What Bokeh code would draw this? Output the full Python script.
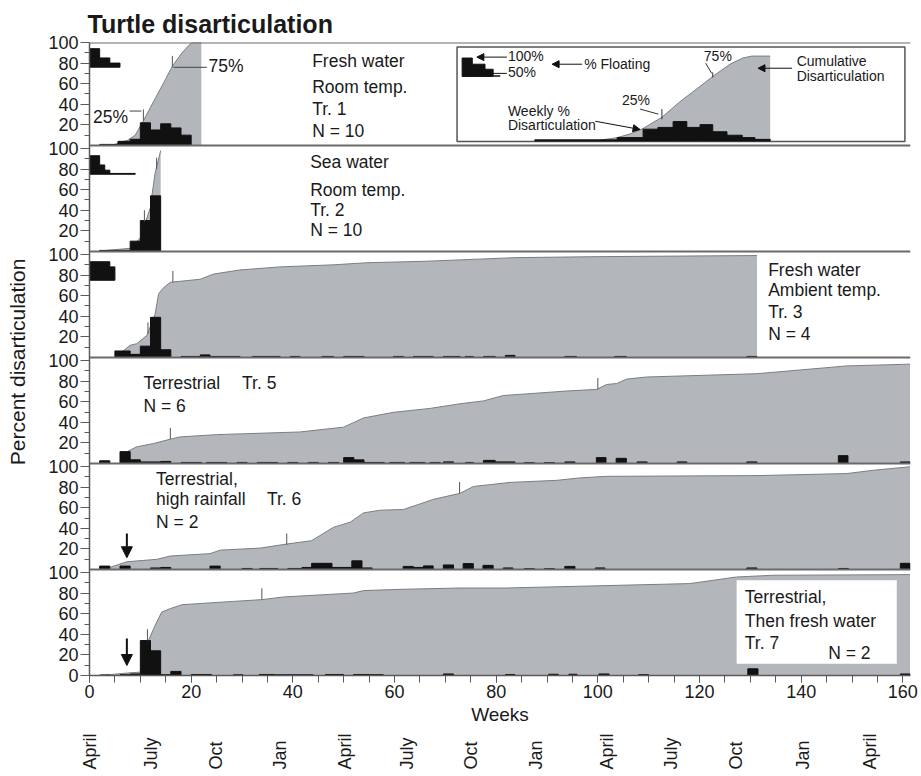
from bokeh.plotting import figure
from bokeh.layouts import column
from bokeh.models import Range1d, FixedTicker, Span, Arrow, NormalHead
from bokeh.embed import file_html
from bokeh.resources import INLINE
from bokeh.core.properties import value

# ---------------- axis data ----------------
week_ticks = [0, 20, 40, 60, 80, 100, 120, 140, 160]
week_minor = list(range(0, 161, 5))
month_names = ["April", "July", "Oct", "Jan", "April", "July", "Oct", "Jan",
               "April", "July", "Oct", "Jan", "April"]
month_weeks = [0, 12.1, 24.8, 37.5, 50.2, 62.4, 75.1, 87.8, 101.7, 114.4, 127.1, 140.3, 153.6]

# ---------------- Tr. 1 : fresh water, room temp ----------------
tr1_float_left = [0, 2, 4]
tr1_float_right = [2, 4, 6]
tr1_float_top = [94, 85, 80]
tr1_float_bottom = 76
tr1_bar_left = [2, 5.6, 8, 10, 12, 14, 16, 18]
tr1_bar_right = [5.6, 8, 10, 12, 14, 16, 18, 20]
tr1_bar_pct = [1, 4, 6, 22, 15, 21, 17, 10]
tr1_cum_week = [2, 5, 7.5, 9, 10.6, 12, 13.3, 14.5, 16.3, 18.2, 19.5, 20.2, 22]
tr1_cum_pct = [0, 1, 5, 10, 24, 37, 49, 60, 77, 90, 97, 100, 100]
tr1_q_week = [10.6, 16.3]
tr1_q_pct = [24, 76]

# ---------------- Tr. 2 : sea water, room temp ----------------
tr2_float_left = [0, 2, 3, 4]
tr2_float_right = [2, 3, 4, 9]
tr2_float_top = [93, 84, 79, 75.8]
tr2_float_bottom = 75
tr2_bar_left = [2, 8, 10, 12]
tr2_bar_right = [8, 10, 12, 14]
tr2_bar_pct = [1, 10, 30, 54]
tr2_cum_week = [2, 8, 10, 11, 12, 12.3, 12.9, 13.5, 14]
tr2_cum_pct = [0.5, 3, 13, 28, 43, 55, 76, 88, 98]
tr2_q_week = [10.8, 13.2]
tr2_q_pct = [29, 80]

# ---------------- Tr. 3 : fresh water, ambient temp ----------------
tr3_float_left = [0, 2, 4]
tr3_float_right = [2, 4, 5]
tr3_float_top = [93, 93, 88]
tr3_float_bottom = 75
tr3_bar_left = [5, 8, 10, 12, 14, 18, 21.8, 23.7, 32, 39.5, 45.7, 50, 59.8, 63.7, 69.6,
                73.9, 77.5, 81.8, 93.5, 103.3, 129.3]
tr3_bar_right = [8, 10, 12, 14, 16, 21.8, 23.7, 29.6, 37.5, 41.4, 48, 54, 61.8, 67.6, 72.9,
                 75.5, 79.8, 83.7, 95.8, 105.6, 131.3]
tr3_bar_pct = [6.3, 3, 11, 39, 7.5, 1, 2.5, 1, 1, 1, 1, 1, 1, 1, 1,
               1, 1, 2, 1, 1, 1]
tr3_cum_week = [5, 8, 9.3, 11.3, 12.9, 13.6, 14.6, 15.9, 21.8, 24.4, 29.6, 37.5, 48, 54.5,
                66.3, 84, 101.7, 131.3]
tr3_cum_pct = [0, 11.8, 13.4, 21.5, 42, 62, 68, 73, 76, 81, 85, 88, 90, 92,
               93.5, 97, 98, 99]
tr3_q_week = [11.5, 16.4]
tr3_q_pct = [23, 73]

# ---------------- Tr. 5 : terrestrial ----------------
tr5_bar_left = [2, 6, 8, 10, 14, 18, 23, 29, 33, 39, 43, 47, 50, 52, 54, 59, 63, 67, 69.6,
                74, 77.5, 79.8, 85.5, 89.5, 93.5, 99.7, 103.6, 107.7, 115.6, 129.3, 147.3, 159.5]
tr5_bar_right = [4, 8, 10, 14, 16, 22, 27, 31, 37, 41, 45, 49, 52, 54, 58, 62, 66, 69, 71.6,
                 75.5, 79.8, 83.7, 87.5, 91.5, 95.5, 101.6, 105.6, 109.7, 117.5, 131.3, 149.2, 161.4]
tr5_bar_pct = [2.6, 11.5, 3.5, 1.5, 2, 1, 1, 1, 1, 1, 1, 1, 5.7, 3.5, 1, 1, 1, 1, 1.5,
               1, 3, 1.5, 0.8, 0.8, 1.5, 5.7, 5, 1.5, 1.5, 1.5, 7.6, 1.5]
tr5_cum_week = [6, 7.4, 9.3, 12.6, 15.9, 17.8, 25, 41.4, 50, 53.9, 59.8, 67, 72.9, 77.5,
                81.4, 93.9, 99.8, 101.7, 103.7, 105.7, 109.6, 131.3, 149, 161.4]
tr5_cum_pct = [2.5, 11.5, 16.2, 19.4, 23.6, 25.8, 28, 30.6, 35.3, 44.2, 49.7, 53.5, 58, 60.8,
               66, 70.4, 72, 76.7, 77.7, 82, 84, 87.2, 94.8, 96.5]
tr5_q_week = [15.9, 100]
tr5_q_pct = [23.6, 72]

# ---------------- Tr. 6 : terrestrial, high rainfall ----------------
tr6_bar_left = [2, 6, 12, 14, 23.7, 30, 33.5, 39, 41.8, 43.7, 47.7, 51.6, 53.6, 61.7, 63.7,
                65.7, 69.6, 73.5, 77.4, 81.4, 85.5, 89.5, 93.5, 99.5, 129.3, 147.3, 159.5]
tr6_bar_right = [4, 8, 14, 16, 25.7, 32, 37, 41.8, 43.7, 47.7, 51.6, 53.6, 55.6, 63.7, 65.7,
                 67.6, 71.6, 75.5, 79.4, 83.3, 87.5, 91.5, 95.5, 101.4, 131.3, 149.3, 161.4]
tr6_bar_pct = [3.3, 3.3, 1.5, 2, 3.3, 1, 1, 1, 2, 6, 2, 8.4, 1.5, 3, 2,
               3.5, 4.4, 5.7, 4, 1.5, 0.8, 0.8, 3, 1.5, 1.5, 1, 6]
tr6_cum_week = [4, 7.35, 13.3, 15.9, 23.7, 25.7, 33.6, 38.8, 43.7, 48, 51.3, 53.9, 57.2, 61.8,
                67.7, 72.9, 75.5, 82.7, 91.9, 96.5, 101.7, 131.3, 149, 154.2, 161.4]
tr6_cum_pct = [2, 7.5, 9.9, 13.1, 15.4, 18.8, 20.8, 24.7, 28, 41, 46, 55, 57.6, 58.3,
               68.2, 74, 80.6, 84.6, 86.6, 89, 90.5, 91.2, 93.2, 96.4, 99.8]
tr6_q_week = [38.8, 72.8]
tr6_q_pct = [24, 74]

# ---------------- Tr. 7 : terrestrial, then fresh water ----------------
tr7_bar_left = [2, 6, 8, 10, 12, 14, 16, 20, 28.3, 33.4, 36.3, 40, 46.4, 51.9, 55, 69.6,
                81.8, 90.3, 94.3, 100.2, 108, 129.5, 159.5]
tr7_bar_right = [4, 8, 10, 12, 14, 16, 18, 24, 30.2, 36.3, 40, 44, 50, 55, 57.8, 71.6,
                 83.7, 92.2, 95.9, 102.2, 110, 131.5, 161.4]
tr7_bar_pct = [0.5, 0.8, 1.5, 34, 24, 0.8, 4, 1, 0.7, 1, 0.7, 0.7, 1, 1, 0.8, 1.5,
               1, 1.2, 1.2, 1.5, 0.8, 6.5, 1.5]
tr7_cum_week = [2, 8, 10, 11.6, 12.9, 14.2, 15.9, 18.2, 28.3, 33.9, 38.2, 51.9, 53.9, 61.1,
                72.9, 82, 118.1, 127.3, 134.5, 161.4]
tr7_cum_pct = [0, 2.6, 3.3, 34, 48.7, 61.6, 65, 68.8, 72, 73.7, 76.3, 80.1, 82.5, 83.7,
               85, 85, 89.3, 95.7, 97.4, 98]
tr7_q_week = [11.4, 33.9]
tr7_q_pct = [34, 73.7]

# ---------------- styling ----------------
GAP = 103            # vertical distance between panel baselines (data units)
FILL = "#b3b7bc"
EDGE = "#7b7e82"
INK = "#111111"
AXC = "#5a5a5a"
TXT = "#1a1a1a"
FONT = "Liberation Sans"
W = 918
BL, BR = 89, 8

p = figure(width=W, height=730, x_range=Range1d(0, 161.5), y_range=Range1d(0, 5 * GAP + 100),
           output_backend="svg", toolbar_location=None,
           min_border_left=BL, min_border_right=BR, min_border_top=42, min_border_bottom=55)
p.xgrid.visible = False
p.ygrid.visible = False
p.outline_line_color = None
p.background_fill_color = "white"

p.title.text = "Turtle  disarticulation"
p.title.text_font = FONT
p.title.text_font_size = "25px"
p.title.text_font_style = "bold"
p.title.text_color = TXT
p.title.standoff = 10
p.title.offset = -2

# ---------- y axis: stacked panels ----------
ymaj, ymin, yover = [], [], {}
for i in range(6):
    base = (5 - i) * GAP
    labels = [20, 40, 60, 80, 100] if i < 5 else [0, 20, 40, 60, 80, 100]
    for v in labels:
        ymaj.append(base + v)
        yover[base + v] = str(v)
    for v in [10, 30, 50, 70, 90]:
        ymin.append(base + v)
p.yaxis.ticker = FixedTicker(ticks=ymaj, minor_ticks=ymin)
p.yaxis.major_label_overrides = yover
p.yaxis.major_tick_out = 9
p.yaxis.major_tick_in = 0
p.yaxis.minor_tick_out = 5
p.yaxis.minor_tick_in = 0
p.yaxis.major_label_standoff = 2
p.yaxis.major_label_text_font = FONT
p.yaxis.major_label_text_font_size = "18px"
p.yaxis.major_label_text_color = TXT
p.yaxis.axis_line_color = AXC
p.yaxis.axis_line_width = 1.5
p.yaxis.major_tick_line_color = AXC
p.yaxis.minor_tick_line_color = AXC
p.yaxis.axis_label = "Percent  disarticulation"
p.yaxis.axis_label_text_font = FONT
p.yaxis.axis_label_text_font_size = "21px"
p.yaxis.axis_label_text_font_style = "normal"
p.yaxis.axis_label_text_color = TXT
p.yaxis.axis_label_standoff = 16

# ---------- x axis ----------
p.xaxis.ticker = FixedTicker(ticks=week_ticks, minor_ticks=week_minor)
p.xaxis.major_tick_out = 7
p.xaxis.major_tick_in = 0
p.xaxis.minor_tick_out = 7
p.xaxis.minor_tick_in = 0
p.xaxis.major_label_standoff = 2
p.xaxis.major_label_text_font = FONT
p.xaxis.major_label_text_font_size = "18px"
p.xaxis.major_label_text_color = TXT
p.xaxis.axis_line_color = AXC
p.xaxis.axis_line_width = 1.5
p.xaxis.major_tick_line_color = AXC
p.xaxis.minor_tick_line_color = AXC
p.xaxis.axis_label = "Weeks"
p.xaxis.axis_label_text_font = FONT
p.xaxis.axis_label_text_font_size = "19px"
p.xaxis.axis_label_text_font_style = "normal"
p.xaxis.axis_label_text_color = TXT
p.xaxis.axis_label_standoff = 3


def shift(vals, base):
    return [base + v for v in vals]


def draw_panel(i, cum_w, cum_v, bl, br, bv, qw, qv, fl=None, fr=None, ft=None, fb=None):
    base = (5 - i) * GAP
    p.varea(x=cum_w, y1=[base] * len(cum_w), y2=shift(cum_v, base), fill_color=FILL)
    p.line(cum_w, shift(cum_v, base), line_color=EDGE, line_width=1)
    p.quad(left=bl, right=br, bottom=[base] * len(bl), top=shift(bv, base),
           fill_color=INK, line_color=INK, line_width=1)
    if fl is not None:
        p.quad(left=fl, right=fr, bottom=[base + fb] * len(fl), top=shift(ft, base),
               fill_color=INK, line_color=INK, line_width=1)
    p.segment(x0=qw, y0=shift(qv, base), x1=qw, y1=[base + v + 11 for v in qv],
              line_color="#555555", line_width=1)


draw_panel(0, tr1_cum_week, tr1_cum_pct, tr1_bar_left, tr1_bar_right, tr1_bar_pct,
           tr1_q_week, tr1_q_pct, tr1_float_left, tr1_float_right, tr1_float_top, tr1_float_bottom)
draw_panel(1, tr2_cum_week, tr2_cum_pct, tr2_bar_left, tr2_bar_right, tr2_bar_pct,
           tr2_q_week, tr2_q_pct, tr2_float_left, tr2_float_right, tr2_float_top, tr2_float_bottom)
draw_panel(2, tr3_cum_week, tr3_cum_pct, tr3_bar_left, tr3_bar_right, tr3_bar_pct,
           tr3_q_week, tr3_q_pct, tr3_float_left, tr3_float_right, tr3_float_top, tr3_float_bottom)
draw_panel(3, tr5_cum_week, tr5_cum_pct, tr5_bar_left, tr5_bar_right, tr5_bar_pct,
           tr5_q_week, tr5_q_pct)
draw_panel(4, tr6_cum_week, tr6_cum_pct, tr6_bar_left, tr6_bar_right, tr6_bar_pct,
           tr6_q_week, tr6_q_pct)
draw_panel(5, tr7_cum_week, tr7_cum_pct, tr7_bar_left, tr7_bar_right, tr7_bar_pct,
           tr7_q_week, tr7_q_pct)

# panel separators
for i in range(5):
    p.add_layout(Span(location=(5 - i) * GAP, dimension="width", line_color="#6a6a6a", line_width=2))
p.add_layout(Span(location=5 * GAP + 100, dimension="width", line_color="#6a6a6a", line_width=2))


def label(i, xs, ys, texts, size="17.5px", align="left"):
    base = (5 - i) * GAP
    p.text(x=xs, y=shift(ys, base), text=texts, text_font=value(FONT), text_font_size=size,
           text_baseline="middle", text_align=align, text_color=TXT)


# ----- panel captions -----
label(0, [43.8] * 4, [82, 57, 35.3, 13.6], ["Fresh water", "Room temp.", "Tr. 1", "N = 10"])
label(1, [43.4] * 4, [86.6, 59.7, 40.2, 20.7], ["Sea water", "Room temp.", "Tr. 2", "N = 10"])
label(2, [133.5] * 4, [84.5, 65.1, 44.1, 23.1], ["Fresh water", "Ambient  temp.", "Tr. 3", "N = 4"])
label(3, [10.6, 30, 10.6], [78.3, 78.3, 56.1], ["Terrestrial", "Tr. 5", "N = 6"])
label(4, [13.1, 13.1, 34.9, 13.1], [87.5, 68.4, 68.4, 46.2],
      ["Terrestrial,", "high rainfall", "Tr. 6", "N = 2"])

# white box in Tr. 7
p.quad(left=[127.3], right=[158.8], bottom=[11.4], top=[92.5],
       fill_color="white", line_color=None)
label(5, [128.9, 128.9, 128.9, 145.3], [76.2, 52.6, 31.2, 21.4],
      ["Terrestrial,", "Then fresh water", "Tr. 7", "N = 2"])

# quartile labels in Tr. 1
b0 = 5 * GAP
label(0, [0.7], [27.4], ["25%"])
label(0, [23.4], [76.9], ["75%"])
p.segment(x0=[7.9, 16.5], y0=[b0 + 33.4, b0 + 75.9], x1=[10.2, 23.1], y1=[b0 + 33.4, b0 + 75.9],
          line_color="#444444", line_width=1)

# arrows (start of exposure) in Tr. 6 and Tr. 7
for i, (ys, ye) in [(4, (35, 11.4)), (5, (36, 9.7))]:
    base = (5 - i) * GAP
    p.add_layout(Arrow(end=NormalHead(size=11, fill_color=INK, line_color=INK),
                       x_start=7.35, y_start=base + ys, x_end=7.35, y_end=base + ye,
                       line_color=INK, line_width=2))

# ----- explanatory inset in Tr. 1 -----
p.quad(left=[72.3], right=[160.4], bottom=[b0 + 3.7], top=[b0 + 95.7],
       fill_color=None, line_color="#555555", line_width=1.5)
legend_float_left = [73.3, 75.3, 77.8]
legend_float_right = [75.3, 77.8, 79.4]
legend_float_top = [84.9, 78.9, 74]
p.quad(left=legend_float_left, right=legend_float_right, bottom=[b0 + 67] * 3,
       top=shift(legend_float_top, b0), fill_color=INK, line_color=INK)
p.segment(x0=[79.4], y0=[b0 + 67.4], x1=[80.8], y1=[b0 + 67.4], line_color=INK, line_width=1.5)
legend_curve_w = [100.4, 103.8, 106.3, 108.9, 112.6, 116.1, 119.5, 122.6, 126, 128.5, 130.3, 133.9]
legend_curve_v = [5.1, 7.6, 11.1, 16.5, 27.4, 42.3, 55.1, 67, 78.9, 84.9, 86.8, 86.8]
p.varea(x=legend_curve_w, y1=[b0 + 4.4] * len(legend_curve_w), y2=shift(legend_curve_v, b0),
        fill_color=FILL)
p.line(legend_curve_w, shift(legend_curve_v, b0), line_color=EDGE, line_width=1)
legend_bar_left = [103.8, 108.9, 111.8, 114.8, 117.5, 120.1, 122.6, 125.4, 128.4, 130.9]
legend_bar_right = [108.9, 111.8, 114.8, 117.5, 120.1, 122.6, 125.4, 128.4, 130.9, 133.9]
legend_bar_top = [7.6, 15.8, 17.5, 23.2, 17.5, 20.2, 13.3, 9.9, 7.6, 5.9]
p.quad(left=legend_bar_left, right=legend_bar_right, bottom=[b0 + 4.4] * 10,
       top=shift(legend_bar_top, b0), fill_color=INK, line_color=INK)
p.quad(left=[87.6], right=[103.8], bottom=[b0 + 4.4], top=[b0 + 5.4], fill_color=INK, line_color=INK)
# quartile ticks + leaders in the inset
p.segment(x0=[112.6, 122.6], y0=[b0 + 25.4, b0 + 66], x1=[112.6, 122.6], y1=[b0 + 35.3, b0 + 71],
          line_color="#333333", line_width=1)
p.segment(x0=[108.3, 121.2], y0=[b0 + 35.3, b0 + 80], x1=[111.9, 122.4], y1=[b0 + 30.4, b0 + 70],
          line_color="#333333", line_width=1)
label(0, [107.5, 123.6], [44.3, 86.8], ["25%", "75%"], size="14px", align="center")
label(0, [82.3, 82.3, 97.3, 82.3, 82.3, 139.1, 139.1], [86.8, 71, 78.9, 33.4, 19.5, 81.9, 67],
      ["100%", "50%", "% Floating", "Weekly %", "Disarticulation", "Cumulative", "Disarticulation"],
      size="14px")
for xs, ys, xe, ye in [(82.1, 85.8, 76.2, 85.8), (96.9, 78.9, 91.0, 78.9),
                       (99.5, 23.5, 108.3, 15.5), (138.2, 75.0, 131.5, 75.0)]:
    p.add_layout(Arrow(end=NormalHead(size=7, fill_color=INK, line_color=INK),
                       x_start=xs, y_start=b0 + ys, x_end=xe, y_end=b0 + ye,
                       line_color=INK, line_width=1))
p.segment(x0=[78.8], y0=[b0 + 70], x1=[82.1], y1=[b0 + 70], line_color=INK, line_width=1)

# ---------- month strip: an axis on top of a thin figure, labels read upward ----------
pm = figure(width=W, height=45, x_range=p.x_range, y_range=Range1d(0, 1),
            output_backend="svg", toolbar_location=None, x_axis_location="above",
            y_axis_type=None, min_border_left=BL, min_border_right=BR,
            min_border_top=0, min_border_bottom=4)
pm.outline_line_color = None
pm.xgrid.visible = False
pm.ygrid.visible = False
pm.xaxis.ticker = FixedTicker(ticks=month_weeks, minor_ticks=[])
pm.xaxis.major_label_overrides = {w: m for w, m in zip(month_weeks, month_names)}
pm.xaxis.major_label_orientation = "vertical"
pm.xaxis.axis_line_color = None
pm.xaxis.major_tick_line_color = None
pm.xaxis.minor_tick_line_color = None
pm.xaxis.major_tick_out = 0
pm.xaxis.minor_tick_out = 0
pm.xaxis.major_tick_in = 0
pm.xaxis.minor_tick_in = 0
pm.xaxis.major_label_standoff = 0
pm.xaxis.major_label_text_font = FONT
pm.xaxis.major_label_text_font_size = "18px"
pm.xaxis.major_label_text_color = TXT

open("out.html", "w").write(file_html(column(p, pm, spacing=0), INLINE))
